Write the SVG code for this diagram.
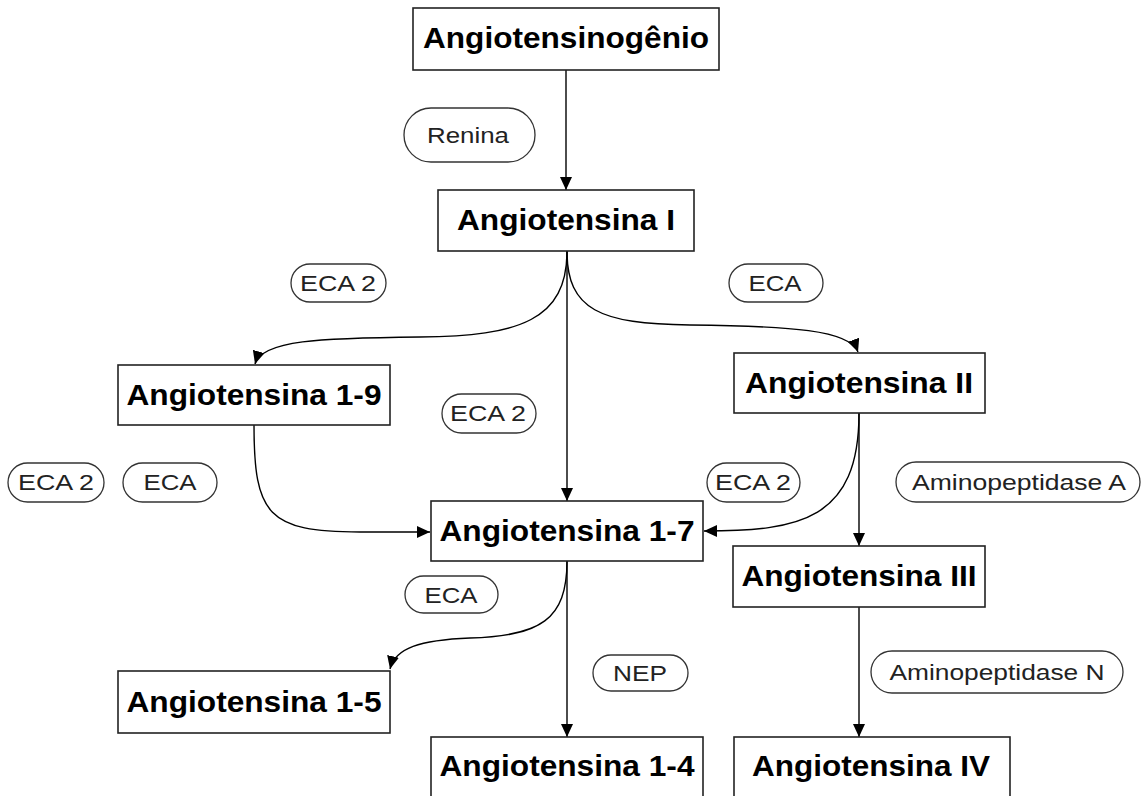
<svg xmlns="http://www.w3.org/2000/svg" width="1142" height="796" viewBox="0 0 1142 796">
<defs>
<marker id="arr" markerUnits="userSpaceOnUse" markerWidth="14" markerHeight="12" refX="13" refY="6" orient="auto">
<path d="M0,0 L13,6 L0,12 z" fill="#000"/>
</marker>
<style>
.box{fill:#fff;stroke:#222;stroke-width:1.6}
.pill{fill:#fff;stroke:#333;stroke-width:1.3}
.t{font-family:"Liberation Sans",Arial,sans-serif;font-weight:bold;font-size:29px;fill:#000;text-anchor:middle}
.e{font-family:"Liberation Sans",Arial,sans-serif;font-size:22px;fill:#222;text-anchor:middle}
.c{fill:none;stroke:#000;stroke-width:1.4;marker-end:url(#arr)}
</style>
</defs>
<rect width="1142" height="796" fill="#fff"/>

<g id="connectors">
<path class="c" d="M566,70 L566,190"/>
<path class="c" d="M567,251 L567,501"/>
<path class="c" d="M567,251 C567,320 520,336 420,337 C320,338 262,340 255,364"/>
<path class="c" d="M567,251 C567,310 600,324 690,325 C790,326 850,330 858,352"/>
<path class="c" d="M254,425 C254,515 268,532 360,532 L430,532"/>
<path class="c" d="M859,413 C859,520 800,531 704,531"/>
<path class="c" d="M859,413 L859,546"/>
<path class="c" d="M567,561 L567,737"/>
<path class="c" d="M567,561 C567,620 540,636 470,638 C420,640 395,648 390,669"/>
<path class="c" d="M859,607 L859,737"/>
</g>

<g id="angiotensinogenio"><rect class="box" x="413" y="8" width="306" height="62"/><text class="t" x="566" y="48" textLength="286" lengthAdjust="spacingAndGlyphs">Angiotensinogênio</text></g>
<g id="angiotensina-i"><rect class="box" x="438" y="190" width="256" height="61"/><text class="t" x="566" y="230" textLength="218" lengthAdjust="spacingAndGlyphs">Angiotensina I</text></g>
<g id="angiotensina-1-9"><rect class="box" x="118" y="365" width="272" height="60"/><text class="t" x="254" y="405" textLength="255" lengthAdjust="spacingAndGlyphs">Angiotensina 1-9</text></g>
<g id="angiotensina-ii"><rect class="box" x="734" y="353" width="251" height="60"/><text class="t" x="859" y="393" textLength="228" lengthAdjust="spacingAndGlyphs">Angiotensina II</text></g>
<g id="angiotensina-1-7"><rect class="box" x="431" y="501" width="272" height="60"/><text class="t" x="567" y="541" textLength="255" lengthAdjust="spacingAndGlyphs">Angiotensina 1-7</text></g>
<g id="angiotensina-iii"><rect class="box" x="733" y="546" width="252" height="61"/><text class="t" x="859" y="586" textLength="235" lengthAdjust="spacingAndGlyphs">Angiotensina III</text></g>
<g id="angiotensina-1-5"><rect class="box" x="118" y="671" width="272" height="62"/><text class="t" x="254" y="712" textLength="255" lengthAdjust="spacingAndGlyphs">Angiotensina 1-5</text></g>
<g id="angiotensina-1-4"><rect class="box" x="431" y="737" width="272" height="62"/><text class="t" x="567" y="776" textLength="255" lengthAdjust="spacingAndGlyphs">Angiotensina 1-4</text></g>
<g id="angiotensina-iv"><rect class="box" x="734" y="737" width="276" height="62"/><text class="t" x="871" y="776" textLength="238" lengthAdjust="spacingAndGlyphs">Angiotensina IV</text></g>

<g id="renina"><rect class="pill" x="404" y="108" width="131" height="54" rx="27"/><text class="e" x="468" y="143" textLength="82" lengthAdjust="spacingAndGlyphs">Renina</text></g>
<g id="eca2-a"><rect class="pill" x="291" y="264" width="95" height="38" rx="19"/><text class="e" x="338" y="291" textLength="76" lengthAdjust="spacingAndGlyphs">ECA 2</text></g>
<g id="eca-a"><rect class="pill" x="729" y="264" width="94" height="38" rx="19"/><text class="e" x="775" y="291" textLength="53" lengthAdjust="spacingAndGlyphs">ECA</text></g>
<g id="eca2-b"><rect class="pill" x="442" y="394" width="94" height="39" rx="19.5"/><text class="e" x="488" y="421" textLength="76" lengthAdjust="spacingAndGlyphs">ECA 2</text></g>
<g id="eca2-c"><rect class="pill" x="8" y="463" width="96" height="39" rx="19.5"/><text class="e" x="56" y="490" textLength="76" lengthAdjust="spacingAndGlyphs">ECA 2</text></g>
<g id="eca-b"><rect class="pill" x="123" y="463" width="94" height="39" rx="19.5"/><text class="e" x="170" y="490" textLength="53" lengthAdjust="spacingAndGlyphs">ECA</text></g>
<g id="eca2-d"><rect class="pill" x="707" y="463" width="93" height="39" rx="19.5"/><text class="e" x="753" y="490" textLength="76" lengthAdjust="spacingAndGlyphs">ECA 2</text></g>
<g id="aminopeptidase-a"><rect class="pill" x="896" y="462" width="244" height="40" rx="20"/><text class="e" x="1019" y="490" textLength="214" lengthAdjust="spacingAndGlyphs">Aminopeptidase A</text></g>
<g id="eca-c"><rect class="pill" x="405" y="576" width="93" height="37" rx="18.5"/><text class="e" x="451" y="603" textLength="53" lengthAdjust="spacingAndGlyphs">ECA</text></g>
<g id="nep"><rect class="pill" x="593" y="655" width="95" height="36" rx="18"/><text class="e" x="640" y="681" textLength="54" lengthAdjust="spacingAndGlyphs">NEP</text></g>
<g id="aminopeptidase-n"><rect class="pill" x="871" y="651" width="252" height="42" rx="21"/><text class="e" x="997" y="680" textLength="215" lengthAdjust="spacingAndGlyphs">Aminopeptidase N</text></g>
</svg>
